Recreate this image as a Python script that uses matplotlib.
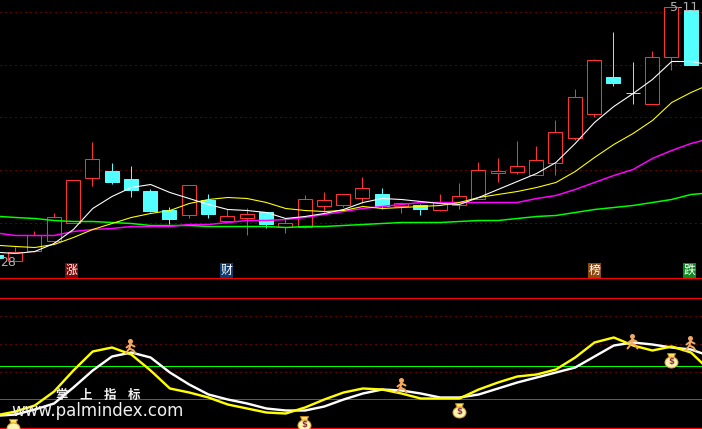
#!/usr/bin/python

import numpy as np
import matplotlib
matplotlib.use('Agg')
import matplotlib.pyplot as plt
from matplotlib.patches import Circle, Ellipse, Polygon

# all levels are read off the picture, in picture rows (0 at the top)
# first session is the sliver cut off at the left edge
candle_high = [255, 247, 231, 213, 180, 142, 163, 166, 189, 207, 185, 194, 209,
               208, 212, 219, 195, 192, 194, 177, 188, 202, 204, 194, 183,
               162, 158, 141, 146, 120, 89, 59, 32, 62, 51, 7, 10]
candle_top = [255, 252, 235, 217, 180, 159, 171, 179, 191, 210, 185, 200, 216,
              214, 212, 223, 199, 200, 194, 188, 194, 203, 205, 202, 196,
              170, 171, 166, 160, 132, 97, 60, 77, 93, 57, 7, 10]
candle_bottom = [258, 261, 251, 241, 223, 178, 182, 190, 211, 219, 215, 214, 221,
                 218, 224, 227, 227, 206, 205, 198, 206, 206, 209, 210, 205,
                 199, 173, 172, 175, 163, 138, 114, 83, 93, 104, 57, 65]
candle_low = [258, 261, 252, 243, 223, 186, 184, 197, 212, 224, 218, 218, 221,
              235, 228, 233, 228, 212, 207, 203, 209, 213, 215, 211, 209,
              199, 182, 174, 175, 175, 140, 117, 86, 104, 104, 70, 65]
candle_up = [0, 1, 1, 1, 1, 1, 0, 0, 0, 0, 1, 0, 1,
             1, 0, 1, 1, 1, 1, 1, 0, 1, 0, 1, 1,
             1, 1, 1, 1, 1, 1, 1, 0, 0, 1, 1, 0]

# moving averages: left edge, one value per session, right edge
ma_white = [252, 253, 251, 243, 229, 208, 196, 187, 184, 192, 198, 204, 209,
            210, 212, 218, 216, 213, 209, 202, 198, 199, 201, 203, 204,
            197, 189, 181, 173, 162, 143, 122, 106, 93, 79, 61, 61, 63]
ma_yellow = [245, 246, 247, 244, 237, 229, 223, 217, 213, 210, 203, 199, 197,
             198, 202, 208, 210, 211, 210, 206, 208, 207, 206, 205, 202,
             197, 194, 191, 187, 182, 171, 157, 144, 133, 120, 102, 92, 87]
ma_magenta = [233, 235, 235, 235, 231, 229, 228, 226, 226, 226, 224, 224, 222,
              220, 220, 219, 217, 214, 211, 208, 206, 204, 202, 202, 202,
              202, 202, 202, 198, 195, 189, 182, 175, 169, 158, 150, 143, 140]
ma_green = [216, 217, 218, 220, 221, 221, 222, 223, 225, 225, 225, 226, 226,
            226, 226, 227, 226, 226, 225, 224, 223, 222, 222, 222, 221,
            220, 220, 218, 216, 215, 212, 209, 207, 205, 202, 199, 194, 193]

# lower indicator, same layout
kdj_white = [415, 414, 409, 403, 387, 370, 356, 352, 357, 372, 384, 394, 399,
             403, 408, 410, 410, 406, 399, 393, 389, 390, 393, 397, 397,
             394, 388, 382, 377, 372, 367, 356, 345, 342, 344, 347, 349, 353]
kdj_yellow = [414, 411, 405, 391, 370, 351, 347, 354, 370, 388, 392, 397, 404,
              408, 412, 413, 407, 399, 392, 388, 389, 393, 398, 398, 398,
              389, 382, 376, 374, 369, 357, 342, 337, 345, 350, 346, 352, 363]

grid_dotted = [12, 65, 117, 170, 223, 316, 344, 372]
red_rules = [278, 298, 428]
green_rule = 366
magenta_rule = 399

tag_labels = ['涨', '财', '榜', '跌']
tag_x = [71, 226, 594, 689]
tag_colors = ['#7a0a0a', '#0c3c70', '#8a4a12', '#0a8a20']
runner_xy = [(130, 347), (401, 386), (632, 342), (690, 344)]
bag_xy = [(13, 427), (304, 424), (459, 411), (671, 361)]
bag_signs = [False, True, True, True]

RED = '#ff3232'
CYAN = '#54ffff'
PX = 0.72  # one pixel in points at dpi 100
SNAP = 0.5  # agg snaps half a row down, this puts 1px lines on the row they were read from

plt.rcParams['font.family'] = ['Noto Sans CJK SC', 'DejaVu Sans']


def draw_runner(ax, x, y):
    c = '#f4a860'
    ax.add_patch(Circle((x, y - 6), 1.8, color=c, zorder=7))
    limbs = [[(x, y - 4), (x - 1, y + 1), (x - 5, y + 6)],
             [(x - 1, y + 1), (x + 3, y + 3), (x + 5, y + 6)],
             [(x - 4, y), (x, y - 3), (x + 4, y - 1)]]
    for limb in limbs:
        xs, ys = zip(*limb)
        ax.plot(xs, ys, color=c, lw=2 * PX, zorder=7, solid_capstyle='round')


def draw_bag(ax, x, y, sign):
    ax.add_patch(Polygon([(x - 4, y - 8), (x + 4, y - 8), (x + 2, y - 3), (x - 2, y - 3)],
                         facecolor='#ffe860', edgecolor='#c08020', lw=PX, zorder=7))
    ax.add_patch(Ellipse((x, y + 1), 13, 11, facecolor='#fff4b0',
                         edgecolor='#e0a030', lw=PX, zorder=7))
    if sign:
        ax.text(x, y, '$', color='#8a3040', fontsize=6, fontweight='bold', ha='center',
                va='center', zorder=8, family='DejaVu Sans')


fig = plt.figure(figsize=(7.02, 4.29), dpi=100, facecolor='black')
ax = fig.add_axes([0, 0, 1, 1])
ax.set_facecolor('black')
ax.set_xlim(-0.5, 701.5)
ax.set_ylim(428.5, -0.5)
ax.axis('off')

sessions = np.arange(len(candle_up)) - 1
candle_x = 15 + 19.3 * sessions
line_x = np.concatenate(([0], candle_x[1:], [702]))
snap_x = candle_x - SNAP

for y in grid_dotted:
    ax.axhline(y - SNAP, color='#c00000', lw=PX, ls=(0, (1, 4)), zorder=1)
for y in red_rules:
    ax.axhline(y - SNAP, color='#ff0000', lw=PX, zorder=1)
ax.axhline(green_rule - SNAP, color='#00ff00', lw=PX, zorder=1)
ax.axhline(magenta_rule - SNAP, color='#e000e0', lw=PX, zorder=1)

up = np.array(candle_up) == 1
high = np.array(candle_high) - SNAP
low = np.array(candle_low) - SNAP
top = np.array(candle_top) - SNAP
bottom = np.array(candle_bottom) - SNAP
ax.vlines(snap_x[up], high[up], low[up], color=RED, lw=PX, zorder=2)
ax.vlines(snap_x[~up], high[~up], low[~up], color=CYAN, lw=PX, zorder=2)
ax.bar(snap_x[up], (bottom - top)[up], bottom=top[up], width=14, facecolor='black',
       edgecolor=RED, lw=PX, zorder=3)
ax.bar(snap_x[~up], (bottom - top)[~up], bottom=top[~up], width=14, facecolor=CYAN,
       edgecolor=CYAN, lw=PX, zorder=3)

ax.plot(line_x, ma_green, color='#00ff00', lw=1.5 * PX, zorder=4)
ax.plot(line_x, ma_magenta, color='#ff00ff', lw=1.5 * PX, zorder=4)
ax.plot(line_x, ma_yellow, color='#ffff00', lw=1.1 * PX, zorder=4)
ax.plot(line_x, ma_white, color='#ffffff', lw=1.1 * PX, zorder=4)

ax.plot(line_x, kdj_white, color='#ffffff', lw=2.4 * PX, zorder=5)
ax.plot(line_x, kdj_yellow, color='#ffff00', lw=2.4 * PX, zorder=6)

for label, x, c in zip(tag_labels, tag_x, tag_colors):
    ax.text(x, 270, label, color='white', fontsize=8.6, ha='center', va='center', zorder=7,
            bbox=dict(facecolor=c, edgecolor='none', pad=0.5))

for x, y in runner_xy:
    draw_runner(ax, x, y)
for (x, y), sign in zip(bag_xy, bag_signs):
    draw_bag(ax, x, y, sign)

ax.text(0, 262, '28', color='#b0b0b0', fontsize=9, ha='left', va='center', zorder=7,
        family='DejaVu Sans')
ax.text(698, 7, '5-11', color='#b0b0b0', fontsize=9, ha='right', va='center', zorder=7,
        family='DejaVu Sans')
ax.text(98, 395, '掌    上    指    标', color='#f0f0f0', fontsize=9, fontweight='bold',
        ha='center', va='center', zorder=9)
ax.text(97, 410, 'www.palmindex.com', color='#f0f0f0', fontsize=12, ha='center', va='center',
        zorder=9, family='DejaVu Sans')

plt.savefig('out.png', dpi=100, facecolor='black')
